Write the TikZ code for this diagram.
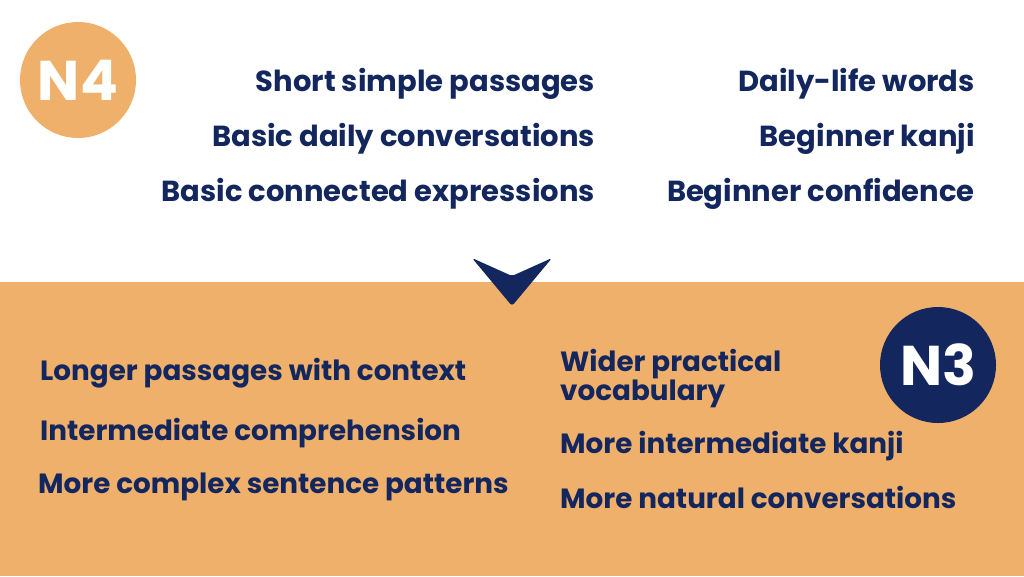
\documentclass[tikz,border=0pt]{standalone}
\usepackage{fontspec}
\setmainfont{Poppins}[BoldFont={* Bold}]
\definecolor{navy}{HTML}{13275E}
\definecolor{org}{HTML}{EFB06B}
\begin{document}
\begin{tikzpicture}[x=1pt,y=-1pt,
  top/.style={text=navy,font=\fontsize{29}{30}\selectfont\bfseries,inner sep=0pt},
  bot/.style={text=navy,font=\fontsize{27.8}{27}\selectfont\bfseries,inner sep=0pt,align=left},
  badge/.style={circle,minimum size=116pt,inner sep=0pt,font=\fontsize{56}{56}\selectfont\bfseries,text=white}]
\useasboundingbox (0,0) rectangle (1024,576);
\fill[white] (0,0) rectangle (1024,576);
\fill[org] (0,282) rectangle (1024,576);
\node[badge,fill=org] (n4) at (78,80) {N4};
\node[badge,fill=navy] (n3) at (938,365) {N3};
\fill[navy,rounded corners=3pt] (472,258) -- (512,276) -- (552,258) -- (512,306) -- cycle;
\node[top,anchor=east] (a1) at (595,84) {Short simple passages};
\node[top,anchor=east] (a2) at (595,139) {Basic daily conversations};
\node[top,anchor=east] (a3) at (595,194) {Basic connected expressions};
\node[top,anchor=east] (b1) at (975,84) {Daily-life words};
\node[top,anchor=east] (b2) at (975,139) {Beginner kanji};
\node[top,anchor=east] (b3) at (975,194) {Beginner confidence};
\node[bot,anchor=west] (c1) at (40,373) {Longer passages with context};
\node[bot,anchor=west] (c2) at (40,433) {Intermediate comprehension};
\node[bot,anchor=west] (c3) at (38,487) {More complex sentence patterns};
\node[bot,anchor=west] (d1) at (560,379) {Wider practical\\vocabulary};
\node[bot,anchor=west] (d2) at (560,446) {More intermediate kanji};
\node[bot,anchor=west] (d3) at (560,497) {More natural conversations};
\end{tikzpicture}
\end{document}
